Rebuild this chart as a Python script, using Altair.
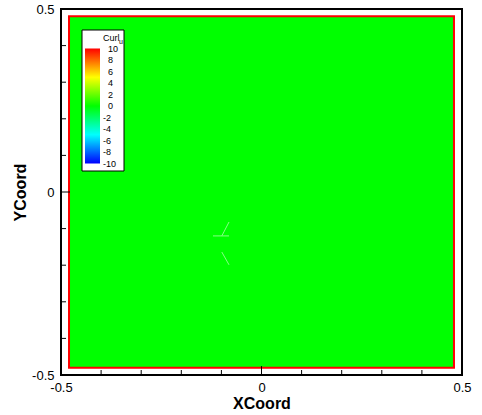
import altair as alt
import pandas as pd

# Axis tick positions (data units)
major_ticks = [-0.5, 0.0, 0.5]
minor_ticks = [-0.4, -0.3, -0.2, -0.1, 0.1, 0.2, 0.3, 0.4]

# Computational domain and its (uniform) curl value
field_x = [-0.48, 0.48]
field_y = [-0.48, 0.48]
field_curl = [0.0]

# Faint contour streaks near the centre
streak_x0 = [-0.121, -0.099, -0.099]
streak_x1 = [-0.081, -0.081, -0.081]
streak_y0 = [-0.120, -0.120, -0.164]
streak_y1 = [-0.120, -0.082, -0.199]

# Colour map for Curl_u
curl_stops = [-10, -5, 0, 5, 10]
curl_colors = ["#0000ff", "#00ffff", "#00ff00", "#ffff00", "#ff0000"]
legend_levels = [10, 8, 6, 4, 2, 0, -2, -4, -6, -8, -10]

FONT = "Liberation Sans"
W, H = 401, 366
pos_scale = alt.Scale(domain=[-0.5, 0.5], nice=False, zero=False)

# plain hyphen-minus labels
plain_label = "datum.value + ''"

x_axis = alt.Axis(values=major_ticks, ticks=False, domain=False, grid=False,
                  labelFlush=False, labelOverlap=False, labelPadding=6,
                  labelFontSize=13, labelColor="black", labelExpr=plain_label,
                  titleFontSize=16, titleFontWeight="bold", titleColor="black",
                  titlePadding=1)
y_axis = alt.Axis(values=major_ticks, ticks=False, domain=False, grid=False,
                  labelFlush=False, labelOverlap=False, labelPadding=7,
                  labelFontSize=13, labelColor="black", labelExpr=plain_label,
                  titleFontSize=16, titleFontWeight="bold", titleColor="black",
                  titlePadding=3)

field_df = pd.DataFrame({"x0": [field_x[0]], "x1": [field_x[1]],
                         "y0": [field_y[0]], "y1": [field_y[1]],
                         "curl": field_curl})
field = alt.Chart(field_df).mark_rect(stroke="#ff0000", strokeWidth=2).encode(
    x=alt.X("x0:Q", scale=pos_scale, axis=x_axis, title="XCoord"),
    x2="x1:Q",
    y=alt.Y("y0:Q", scale=pos_scale, axis=y_axis, title="YCoord"),
    y2="y1:Q",
    fill=alt.Fill("curl:Q", scale=alt.Scale(domain=curl_stops, range=curl_colors),
                  legend=None),
)

streak_df = pd.DataFrame({"x0": streak_x0, "x1": streak_x1,
                          "y0": streak_y0, "y1": streak_y1})
streaks = alt.Chart(streak_df).mark_rule(color="#86ff86", strokeWidth=1).encode(
    x=alt.X("x0:Q", scale=pos_scale), x2="x1:Q",
    y=alt.Y("y0:Q", scale=pos_scale), y2="y1:Q",
)

minor_df = pd.DataFrame({"t": minor_ticks})
major_df = pd.DataFrame({"t": major_ticks})

def bottom_ticks(df, length):
    return alt.Chart(df).mark_rule(color="black", strokeWidth=1).encode(
        x=alt.X("t:Q", scale=pos_scale), y=alt.value(H), y2=alt.value(H - length))

def left_ticks(df, length):
    return alt.Chart(df).mark_rule(color="black", strokeWidth=1).encode(
        y=alt.Y("t:Q", scale=pos_scale), x=alt.value(0), x2=alt.value(length))

plot = alt.layer(field, streaks,
                 bottom_ticks(minor_df, 5), bottom_ticks(major_df, 9),
                 left_ticks(minor_df, 5), left_ticks(major_df, 9))

# Colour legend (own vertical scale for the level values)
lev_scale = alt.Scale(domain=[-10, 10], range=[154.5, 39.5], nice=False, zero=False)
box_df = pd.DataFrame({"k": [0]})
box = alt.Chart(box_df).mark_rect(fill="white", stroke="black", strokeWidth=1).encode(
    x=alt.value(21), x2=alt.value(63), y=alt.value(21), y2=alt.value(162))

bar_df = pd.DataFrame({"lo": [min(legend_levels)], "hi": [max(legend_levels)]})
gradient = alt.Gradient(
    gradient="linear", x1=0, x2=0, y1=0, y2=1,
    stops=[alt.GradientStop(offset=(10 - v) / 20, color=c)
           for v, c in sorted(zip(curl_stops, curl_colors), key=lambda p: -p[0])],
)
bar = alt.Chart(bar_df).mark_rect(fill=gradient).encode(
    x=alt.value(24), x2=alt.value(39),
    y=alt.Y("lo:Q", scale=lev_scale, axis=None), y2="hi:Q")

lev_df = pd.DataFrame({"lv": legend_levels})

def level_labels(cond, x_px):
    return alt.Chart(lev_df).transform_filter(cond).transform_calculate(
        txt="datum.lv + ''").mark_text(
        align="left", baseline="middle", fontSize=9, color="black", font=FONT).encode(
        x=alt.value(x_px), y=alt.Y("lv:Q", scale=lev_scale, axis=None), text="txt:N")

labels_pos = level_labels("datum.lv >= 0", 47)
labels_neg = level_labels("datum.lv < 0", 42)

title_main = alt.Chart(box_df).mark_text(
    align="left", baseline="middle", fontSize=9, color="black", font=FONT, text="Curl").encode(
    x=alt.value(42), y=alt.value(29))
title_sub = alt.Chart(box_df).mark_text(
    align="left", baseline="middle", fontSize=7, color="black", font=FONT, text="u").encode(
    x=alt.value(58), y=alt.value(33))

legend = alt.layer(box, bar, labels_pos, labels_neg, title_main, title_sub)

chart = alt.layer(plot, legend).resolve_scale(y="independent").properties(
    width=W, height=H, autosize="none",
    padding={"left": 61, "top": 9, "right": 20, "bottom": 40},
).configure(font=FONT).configure_view(stroke="black", strokeWidth=2)

chart.save("out.html", embed_options={"renderer": "svg", "actions": False})
